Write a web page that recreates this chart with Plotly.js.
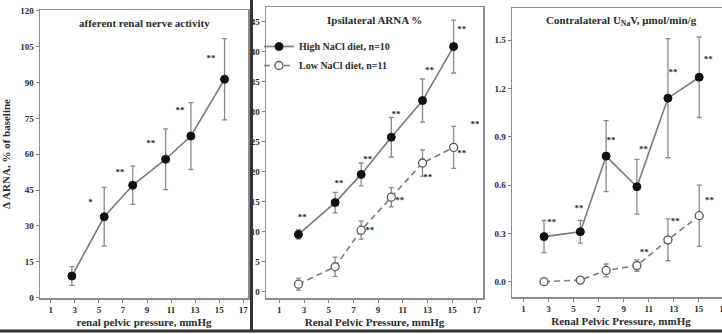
<!DOCTYPE html>
<html>
<head>
<meta charset="utf-8">
<script src="https://cdn.plot.ly/plotly-3.0.1.min.js"></script>
<style>
html,body{margin:0;padding:0;overflow:hidden;background:#fff;width:722px;height:334px;}
#chart{width:740px;height:334px;}
</style>
</head>
<body>
<div id="chart"></div>
<script>
// ---------- data ----------
// Panel 1: afferent renal nerve activity
const pressure1 = [2.75, 5.44, 7.81, 10.55, 12.65, 15.45];
const arna = [9.0, 33.8, 47.0, 57.9, 67.6, 91.4];
const arnaErr = [3.9, 12.3, 8.0, 12.7, 14.0, 17.0];
const sig1X = [4.31, 6.75, 9.31, 11.75, 14.33];
const sig1Y = [39.7, 52.1, 64.6, 78.2, 99.8];
const sig1Text = ['*', '**', '**', '**', '**'];

// Panel 2: Ipsilateral ARNA %
const pressure2 = [2.55, 5.52, 7.63, 10.07, 12.6, 15.12];
const ipsiHigh = [9.5, 14.8, 19.5, 25.7, 31.8, 40.8];
const ipsiHighErr = [0.8, 1.7, 1.9, 3.3, 3.6, 4.4];
const ipsiLow = [1.2, 4.1, 10.2, 15.7, 21.4, 24.0];
const ipsiLowErr = [1.0, 1.6, 1.5, 1.6, 2.2, 3.5];
const sig2HighX = [2.86, 5.84, 8.16, 10.46, 13.16, 15.78, 16.86];
const sig2HighY = [12.2, 17.9, 22.0, 29.4, 36.75, 43.6, 27.75];
const sig2LowX = [8.33, 10.76, 13.03, 15.78];
const sig2LowY = [10.1, 15.1, 19.0, 23.0];

// Panel 3: Contralateral UNaV
const pressure3 = [2.64, 5.54, 7.6, 10.06, 12.54, 15.04];
const unavHigh = [0.28, 0.31, 0.78, 0.59, 1.14, 1.27];
const unavHighErr = [0.10, 0.07, 0.22, 0.17, 0.37, 0.25];
const unavLow = [0.0, 0.01, 0.07, 0.10, 0.26, 0.41];
const unavLowErr = [0, 0.01, 0.04, 0.035, 0.13, 0.19];
const sig3X = [3.26, 5.44, 8.0, 10.58, 12.94, 15.76, 10.64, 13.12, 15.86];
const sig3Y = [0.365, 0.455, 0.873, 0.817, 1.297, 1.376, 0.179, 0.371, 0.502];

const xTicks = [1, 3, 5, 7, 9, 11, 13, 15, 17];
const yTicks1 = [0, 15, 30, 45, 60, 75, 90, 105, 120];
const yTicks2 = [0, 5, 10, 15, 20, 25, 30, 35, 40, 45];
const yTicks3 = [0, 0.3, 0.6, 0.9, 1.2, 1.5];

const seriesNames = ['High NaCl diet, n=10', 'Low NaCl diet, n=11'];
const titles = ['afferent renal nerve activity', 'Ipsilateral ARNA %', 'Contralateral U<sub>Na</sub>V, μmol/min/g'];

// ---------- style ----------
const W = 740, H = 334;
const FONT = 'Liberation Serif, DejaVu Serif, serif';
const TXT = '#2b2b2b';
const LINE = '#7a7a7a';
const ERR = '#8a8a8a';
const px = v => v / W;
const py = v => 1 - v / H;

function errBar(arr) {
  return {type: 'data', array: arr, visible: true, color: ERR, thickness: 1.3, width: 2.5};
}
function filled(x, y, e, xa, ya, name, leg) {
  return {x: x, y: y, xaxis: xa, yaxis: ya, type: 'scatter', mode: 'lines+markers',
    name: name, showlegend: leg, line: {color: LINE, width: 1.6},
    marker: {symbol: 'circle', size: 8, color: '#111', line: {color: '#111', width: 1}},
    error_y: errBar(e)};
}
function open(x, y, e, xa, ya, name, leg) {
  return {x: x, y: y, xaxis: xa, yaxis: ya, type: 'scatter', mode: 'lines+markers',
    name: name, showlegend: leg, line: {color: LINE, width: 1.6, dash: '6px,4px'},
    marker: {symbol: 'circle', size: 8, color: '#fff', line: {color: '#555', width: 1.3}},
    error_y: errBar(e)};
}
function stars(x, y, t, xa, ya) {
  return {x: x, y: y, xaxis: xa, yaxis: ya, type: 'scatter', mode: 'text',
    text: t, textposition: 'middle center', showlegend: false, hoverinfo: 'skip',
    textfont: {family: FONT, size: 9, color: TXT, weight: 'bold'}};
}
const dbl = n => Array(n).fill('**');

const traces = [
  filled(pressure1, arna, arnaErr, 'x', 'y', 'ARNA', false),
  stars(sig1X, sig1Y, sig1Text, 'x', 'y'),
  filled(pressure2, ipsiHigh, ipsiHighErr, 'x2', 'y2', seriesNames[0], true),
  open(pressure2, ipsiLow, ipsiLowErr, 'x2', 'y2', seriesNames[1], true),
  stars(sig2HighX, sig2HighY, dbl(sig2HighX.length), 'x2', 'y2'),
  stars(sig2LowX, sig2LowY, dbl(sig2LowX.length), 'x2', 'y2'),
  filled(pressure3, unavHigh, unavHighErr, 'x3', 'y3', seriesNames[0], false),
  open(pressure3, unavLow, unavLowErr, 'x3', 'y3', seriesNames[1], false),
  stars(sig3X, sig3Y, dbl(sig3X.length), 'x3', 'y3')
];

const tickFont = {family: FONT, size: 9, color: TXT, weight: 'bold'};
const titleFont = {family: FONT, size: 11, color: TXT, weight: 'bold'};
function xax(dom, rng, anchor, ttl) {
  return {domain: dom, range: rng, anchor: anchor, tickvals: xTicks, ticks: 'outside', ticklen: 3,
    tickcolor: LINE, showline: true, linecolor: '#8c8c8c', linewidth: 1.5, mirror: true,
    showgrid: false, zeroline: false, tickfont: tickFont,
    title: {text: ttl, font: titleFont, standoff: 4}};
}
function yax(dom, rng, anchor, ticks, fmt) {
  return {domain: dom, range: rng, anchor: anchor, tickvals: ticks, tickformat: fmt, ticks: 'outside',
    ticklen: 3, tickcolor: LINE, showline: true, linecolor: '#8c8c8c', linewidth: 1.5, mirror: true,
    showgrid: false, zeroline: false, tickfont: tickFont};
}

const xa1 = xax([px(40), px(248)], [0.1, 17.4], 'y', 'renal pelvic pressure, mmHg');
const xa2 = xax([px(266), px(483)], [-0.08, 17.5], 'y2', 'Renal Pelvic Pressure, mmHg');
const xa3 = xax([px(512), px(730)], [0.08, 17.5], 'y3', 'Renal Pelvic Pressure, mmHg');

const ya1 = yax([py(298), py(10)], [-0.2, 120.4], 'x', yTicks1, '');
ya1.title = {text: 'Δ ARNA, % of baseline', font: titleFont, standoff: 8};
const ya2 = yax([py(298), py(7)], [-1.1, 47.4], 'x2', yTicks2, '');
const ya3 = yax([py(297), py(8)], [-0.095, 1.70], 'x3', yTicks3, '.1f');

function panelTitle(txt, xa, ya) {
  return {text: txt, xref: xa + ' domain', yref: ya + ' domain', x: 0.5, y: 0.955,
    xanchor: 'center', yanchor: 'middle', showarrow: false, font: titleFont};
}

const layout = {
  width: W, height: H, margin: {l: 0, r: 0, t: 0, b: 0},
  paper_bgcolor: '#fff', plot_bgcolor: '#fff',
  xaxis: xa1, yaxis: ya1, xaxis2: xa2, yaxis2: ya2, xaxis3: xa3, yaxis3: ya3,
  showlegend: true,
  legend: {x: px(259), y: py(32), xanchor: 'left', yanchor: 'top', bgcolor: 'rgba(0,0,0,0)',
    font: {family: FONT, size: 10, color: TXT, weight: 'bold'}, itemwidth: 30, tracegroupgap: 0},
  annotations: [
    panelTitle(titles[0], 'x', 'y'),
    panelTitle(titles[1], 'x2', 'y2'),
    panelTitle(titles[2], 'x3', 'y3')
  ],
  shapes: [
    {type: 'line', xref: 'paper', yref: 'paper', x0: px(251.5), x1: px(251.5), y0: py(331), y1: 1,
      line: {color: '#333', width: 3}},
    {type: 'line', xref: 'paper', yref: 'paper', x0: 0, x1: 1, y0: py(331), y1: py(331),
      line: {color: '#333', width: 3}}
  ]
};

Plotly.newPlot('chart', traces, layout, {staticPlot: true, displayModeBar: false});
</script>
</body>
</html>
